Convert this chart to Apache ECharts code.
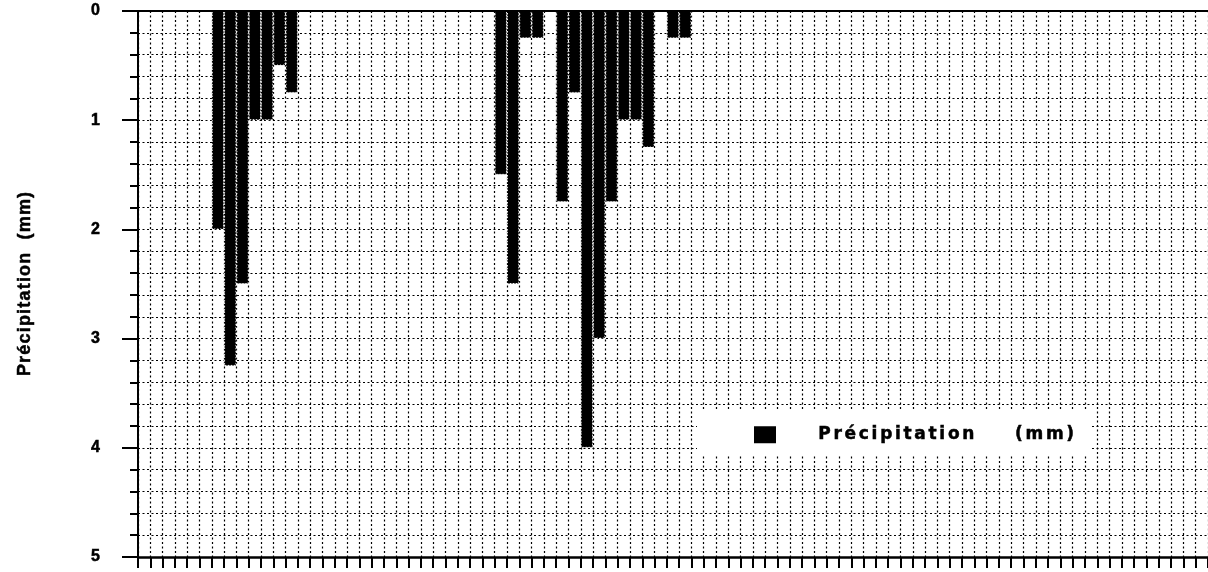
<!DOCTYPE html>
<html>
<head>
<meta charset="utf-8">
<script src="https://cdn.jsdelivr.net/npm/echarts@6/dist/echarts.min.js"></script>
<style>
  html, body { margin: 0; padding: 0; background: #fff; }
  #chart { width: 1208px; height: 572px; }
</style>
</head>
<body>
<div id="chart"></div>
<script>
// Daily precipitation, drawn as bars hanging from the top of an inverted axis.
const seriesName = 'Précipitation (mm)';
const axisTitle = 'Précipitation (mm)';
const yTickLabels = ['0', '1', '2', '3', '4', '5'];

// Day numbers along the horizontal axis (labels are not drawn).
const days = Array.from({ length: 87 }, (_, i) => String(i + 1));

// Precipitation per day, in mm.
const precipitation = [
  0, 0, 0, 0, 0, 0, 2.0, 3.25, 2.5, 1.0,
  1.0, 0.5, 0.75, 0, 0, 0, 0, 0, 0, 0,
  0, 0, 0, 0, 0, 0, 0, 0, 0, 1.5,
  2.5, 0.25, 0.25, 0, 1.75, 0.75, 4.0, 3.0, 1.75, 1.0,
  1.0, 1.25, 0, 0.25, 0.25, 0, 0, 0, 0, 0,
  0, 0, 0, 0, 0, 0, 0, 0, 0, 0,
  0, 0, 0, 0, 0, 0, 0, 0, 0, 0,
  0, 0, 0, 0, 0, 0, 0, 0, 0, 0,
  0, 0, 0, 0, 0, 0, 0
];

// Builds a rich-text string where each character is its own segment,
// so the segments' padding acts as letter spacing.
function spaced(text, letterKey, gapKey) {
  return text.split('').map(function (ch) {
    return ch === ' ' ? '{' + gapKey + '| }' : '{' + letterKey + '|' + ch + '}';
  }).join('');
}

const wideFont = "'DejaVu Sans', 'Liberation Sans', Arial, sans-serif";
const nameFont = "'Liberation Sans', Arial, sans-serif";
const dotted = { color: '#000', width: 1.2, type: [2, 2.5] };
const heavy = { textBorderColor: '#000', textBorderWidth: 0.5 };

const chart = echarts.init(document.getElementById('chart'));
chart.setOption({
  animation: false,
  backgroundColor: '#fff',
  grid: { left: 138, right: -4, top: 11, bottom: 15, containLabel: false },
  legend: {
    data: [seriesName],
    left: 697,
    top: 410,
    orient: 'horizontal',
    selectedMode: false,
    backgroundColor: '#fff',
    padding: [16, 16, 11, 57],
    icon: 'rect',
    itemWidth: 22,
    itemHeight: 17,
    itemStyle: { color: '#000', borderWidth: 0 },
    formatter: function (name) { return spaced(name, 'l', 'g'); },
    textStyle: {
      fontFamily: wideFont,
      fontWeight: 'bold',
      fontSize: 17,
      color: '#000',
      padding: [0, 0, 0, 36],
      rich: {
        l: Object.assign({ fontFamily: wideFont, fontWeight: 'bold', fontSize: 17, color: '#000', padding: [0, 1.35, 0, 1.35], lineHeight: 20 }, heavy),
        g: { fontFamily: wideFont, fontWeight: 'bold', fontSize: 17, color: '#000', width: 38, lineHeight: 20 }
      }
    }
  },
  xAxis: [
    {
      type: 'category',
      data: days,
      position: 'bottom',
      boundaryGap: true,
      axisLine: { show: true, onZero: false, lineStyle: { color: '#000', width: 2.5 } },
      axisTick: { show: true, interval: 0, length: 11, inside: false, lineStyle: { color: '#000', width: 2 } },
      axisLabel: { show: false },
      splitLine: { show: true, interval: 0, lineStyle: dotted }
    },
    {
      type: 'category',
      data: days,
      position: 'top',
      z: 4,
      axisLine: { show: true, onZero: false, lineStyle: { color: '#000', width: 2 } },
      axisTick: { show: false },
      axisLabel: { show: false },
      splitLine: { show: false }
    }
  ],
  yAxis: {
    type: 'value',
    inverse: true,
    min: 0,
    max: 5,
    interval: 1,
    name: spaced(axisTitle, 'n', 'g'),
    nameLocation: 'middle',
    nameGap: 104,
    nameRotate: 90,
    nameTextStyle: {
      fontFamily: nameFont,
      fontWeight: 'bold',
      fontSize: 18,
      color: '#000',
      rich: {
        n: Object.assign({ fontFamily: nameFont, fontWeight: 'bold', fontSize: 18, color: '#000', padding: [0, 0.6, 0, 0.6] }, heavy),
        g: { fontFamily: nameFont, fontWeight: 'bold', fontSize: 18, color: '#000', width: 12 }
      }
    },
    axisLine: { show: true, onZero: false, lineStyle: { color: '#000', width: 2 } },
    axisTick: { show: true, length: 16, lineStyle: { color: '#000', width: 2 } },
    minorTick: { show: true, splitNumber: 5, length: 8, lineStyle: { color: '#000', width: 2 } },
    axisLabel: Object.assign({
      margin: 38,
      fontFamily: "'Liberation Sans', Arial, sans-serif",
      fontWeight: 'bold',
      fontSize: 16,
      color: '#000',
      padding: [12, 0, 0, 0],
      formatter: function (v) { return yTickLabels[Math.round(v)]; }
    }, heavy),
    splitLine: { show: true, lineStyle: dotted },
    minorSplitLine: { show: true, lineStyle: dotted }
  },
  series: [
    {
      name: seriesName,
      type: 'bar',
      xAxisIndex: 0,
      data: precipitation,
      barWidth: '100%',
      barGap: 0,
      barCategoryGap: 0,
      itemStyle: { color: '#000', borderColor: '#fff', borderWidth: 1, borderType: [1, 2] },
      emphasis: { disabled: true }
    }
  ]
});
</script>
</body>
</html>
